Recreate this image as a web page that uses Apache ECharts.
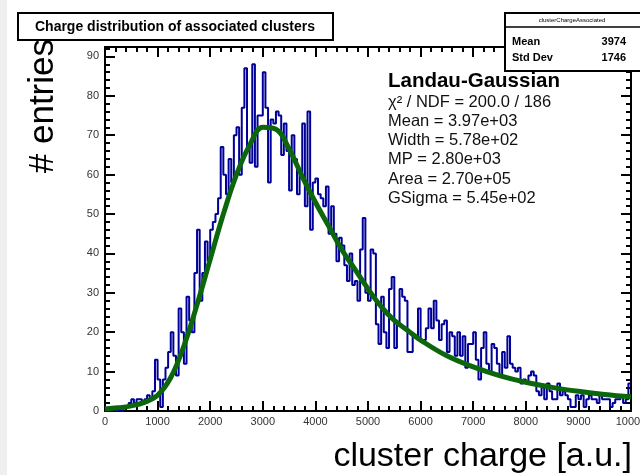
<!DOCTYPE html>
<html>
<head>
<meta charset="utf-8">
<script src="https://cdn.jsdelivr.net/npm/echarts@6/dist/echarts.min.js"></script>
<style>
html,body{margin:0;padding:0;background:#fff;}
#chart{width:640px;height:475px;}
</style>
</head>
<body>
<div id="chart"></div>
<script>
// Histogram: 200 bins of width 50 from 0 to 10000
const binWidth = 50;
const counts = [
  0,0,0,1,0,1,0,1,1,2,
  3,2,3,3,2,3,4,3,5,13,
  8,1,8,11,15,20,14,9,26,20,
  12,29,23,20,35,46,28,35,43,38,
  46,48,50,54,67,60,55,64,58,70,
  72,60,77,87,67,63,88,62,75,75,
  86,77,58,74,73,76,75,65,73,66,
  56,70,64,55,60,73,52,76,46,58,
  59,55,54,52,57,45,52,45,38,44,
  42,37,33,40,32,33,28,41,49,30,
  28,41,40,22,17,29,20,16,31,34,
  16,22,31,29,28,15,15,19,19,26,
  18,18,21,26,21,28,23,18,22,23,
  15,20,19,14,20,14,19,11,17,17,
  20,13,8,16,20,12,10,17,16,12,
  9,15,11,19,12,11,10,11,7,8,
  7,9,10,9,5,4,6,3,7,5,
  3,3,7,4,5,4,3,1,1,4,
  3,4,1,3,4,3,3,2,4,3,
  3,3,1,2,3,3,4,2,3,7
];
// Landau-Gaussian fit curve
const fitX = [0,250,500,750,1000,1250,1500,1750,2000,2250,2500,2750,3000,3250,3500,3750,4000,4250,4500,4750,5000,5250,5500,5750,6000,6500,7000,7500,8000,8500,9000,9500,10000];
const fitY = [0.5,0.8,1.3,2.2,4,8.5,16.5,27,38.5,50,60,67.5,72,71.5,66.5,59.5,53,47,41,36,31,26.5,23,20.5,18,14,11.2,9,7.3,6,5,4.2,3.6];

const xMin = 0, xMax = 10000, yMin = 0, yMax = 92.4;
const xMajor = 1000, xMinor = 200, yMajor = 10, yMinor = 2;
const titleText = 'Charge distribution of associated clusters';
const xTitle = 'cluster charge [a.u.]';
const yTitle = '# entries';
const statsName = 'clusterChargeAssociated';
const statsRows = [['Mean', '3974'], ['Std Dev', '1746']];
const fitTitle = 'Landau-Gaussian';
const fitLines = ['χ² / NDF = 200.0 / 186', 'Mean = 3.97e+03', 'Width = 5.78e+02', 'MP = 2.80e+03', 'Area = 2.70e+05', 'GSigma = 5.45e+02'];

const histData = counts.map((c, i) => [i * binWidth, c]);
histData.push([counts.length * binWidth, counts[counts.length - 1]]);
const fitData = fitX.map((x, i) => [x, fitY[i]]);

const FONT = '"Liberation Sans", Arial, Helvetica, sans-serif';
const chart = echarts.init(document.getElementById('chart'), null, {renderer: 'canvas'});

function xAx(pos, interval, len, labels, line) {
  return {
    type: 'value', position: pos, min: xMin, max: xMax, interval: interval,
    axisLine: {show: line, onZero: false, lineStyle: {color: '#000', width: 2}},
    axisTick: {show: true, inside: true, length: len, lineStyle: {color: '#000', width: 2}},
    axisLabel: {show: labels, color: '#333', fontSize: 11, fontFamily: FONT, margin: 5,
      formatter: v => String(v), hideOverlap: false},
    splitLine: {show: false}
  };
}
function yAx(pos, interval, len, labels, line) {
  return {
    type: 'value', position: pos, min: yMin, max: yMax, interval: interval,
    axisLine: {show: line, onZero: false, lineStyle: {color: '#000', width: 2}},
    axisTick: {show: true, inside: true, length: len, lineStyle: {color: '#000', width: 2}},
    axisLabel: {show: labels, color: '#333', fontSize: 11, fontFamily: FONT, margin: 6, showMaxLabel: false,
      formatter: v => String(v)},
    splitLine: {show: false}
  };
}

const graphics = [
  {type: 'rect', shape: {x: 0, y: 0, width: 7, height: 475}, style: {fill: '#efefef'}, z: 1},
  {type: 'rect', shape: {x: 18, y: 13, width: 315, height: 27}, style: {fill: '#fff', stroke: '#000', lineWidth: 2}, z: 10},
  {type: 'text', x: 175, y: 27, style: {text: titleText, fill: '#000', font: 'bold 14px ' + FONT, textAlign: 'center', textVerticalAlign: 'middle'}, z: 11},
  {type: 'rect', shape: {x: 505, y: 13, width: 140, height: 58}, style: {fill: '#fff', stroke: '#000', lineWidth: 2}, z: 10},
  {type: 'line', shape: {x1: 505, y1: 27, x2: 645, y2: 27}, style: {stroke: '#000', lineWidth: 1.5}, z: 11},
  {type: 'text', x: 572, y: 20, style: {text: statsName, fill: '#000', font: '6px ' + FONT, textAlign: 'center', textVerticalAlign: 'middle'}, z: 11},
  {type: 'text', x: 388, y: 81, style: {text: fitTitle, fill: '#000', font: 'bold 20.5px ' + FONT, textAlign: 'left', textVerticalAlign: 'middle'}, z: 11},
  {type: 'text', x: 43, y: 39, rotation: Math.PI / 2, style: {text: yTitle, fill: '#000', font: '35px ' + FONT, textAlign: 'right', textVerticalAlign: 'middle'}, z: 11},
  {type: 'text', x: 632, y: 457, style: {text: xTitle, fill: '#000', font: '34px ' + FONT, textAlign: 'right', textVerticalAlign: 'middle'}, z: 11}
];
statsRows.forEach((r, i) => {
  const y = 42 + i * 16;
  graphics.push({type: 'text', x: 512, y: y, style: {text: r[0], fill: '#000', font: 'bold 11px ' + FONT, textAlign: 'left', textVerticalAlign: 'middle'}, z: 11});
  graphics.push({type: 'text', x: 626, y: y, style: {text: r[1], fill: '#000', font: 'bold 11px ' + FONT, textAlign: 'right', textVerticalAlign: 'middle'}, z: 11});
});
fitLines.forEach((t, i) => {
  graphics.push({type: 'text', x: 388, y: 102 + i * 19.3, style: {text: t, fill: '#111', font: '16.5px ' + FONT, textAlign: 'left', textVerticalAlign: 'middle'}, z: 11});
});

chart.setOption({
  animation: false,
  backgroundColor: '#fff',
  grid: {left: 105, right: 9, top: 47, bottom: 64, containLabel: false, outerBoundsMode: 'none'},
  xAxis: [
    xAx('bottom', xMajor, 10, true, true),
    xAx('bottom', xMinor, 5, false, false),
    xAx('top', xMajor, 10, false, true),
    xAx('top', xMinor, 5, false, false)
  ],
  yAxis: [
    yAx('left', yMajor, 10, true, true),
    yAx('left', yMinor, 5, false, false),
    yAx('right', yMajor, 10, false, true),
    yAx('right', yMinor, 5, false, false)
  ],
  series: [
    {type: 'line', data: histData, step: 'end', symbol: 'none', xAxisIndex: 0, yAxisIndex: 0,
     lineStyle: {color: '#000099', width: 2}, z: 3},
    {type: 'line', data: fitData, smooth: 0.4, symbol: 'none', xAxisIndex: 0, yAxisIndex: 0,
     lineStyle: {color: '#0c660c', width: 5}, z: 4}
  ],
  graphic: graphics
});
</script>
</body>
</html>
